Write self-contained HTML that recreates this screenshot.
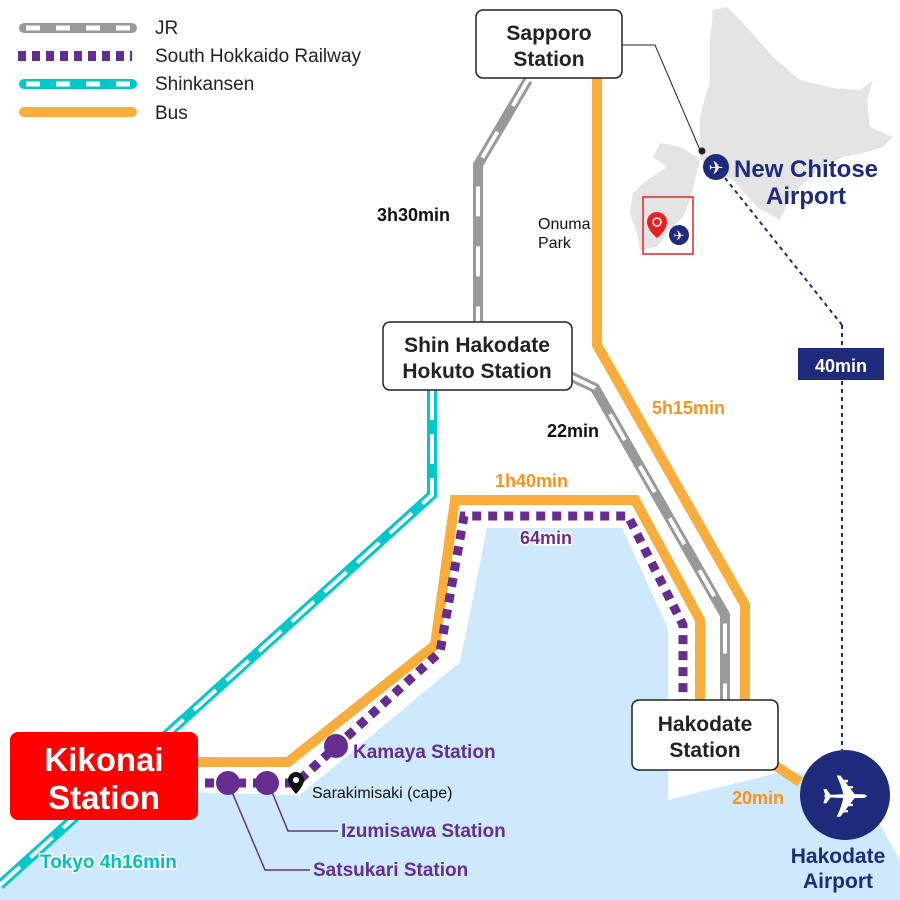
<!DOCTYPE html>
<html><head><meta charset="utf-8"><style>
html,body{margin:0;padding:0;background:#fff;}
svg{display:block;}
text{font-family:"Liberation Sans",sans-serif;}
.b{font-weight:bold;}
</style></head><body>
<svg width="900" height="900" viewBox="0 0 900 900" xmlns="http://www.w3.org/2000/svg">
<!-- sea -->
<polygon fill="#cde9fb" points="0,900 0,880 95,790 300,795 460,662 487,528 622,528 668,628 668,700 668,800 790,770 860,790 900,860 900,900"/>
<!-- Hokkaido -->
<polygon fill="#e4e4e4" points="713,10 727,7 743,23 773,57 800,80 833,88 860,90 873,80 867,100 870,127 893,137 883,147 863,153 843,157 817,170 790,197 780,220 757,207 733,180 717,173 697,157 680,147 660,143 653,157 667,167 647,180 633,193 630,213 637,233 640,250 657,247 667,233 683,217 690,200 700,160 700,117 710,80 710,40"/>
<!-- legend -->
<line x1="24" y1="28" x2="132" y2="28" stroke="#999" stroke-width="10" stroke-linecap="round"/>
<line x1="26" y1="28" x2="132" y2="28" stroke="#fff" stroke-width="5" stroke-dasharray="14,16"/>
<line x1="18" y1="56" x2="132" y2="56" stroke="#662d91" stroke-width="10" stroke-dasharray="8,6"/>
<line x1="24" y1="84" x2="132" y2="84" stroke="#00c8c8" stroke-width="10" stroke-linecap="round"/>
<line x1="26" y1="84" x2="132" y2="84" stroke="#fff" stroke-width="5" stroke-dasharray="14,16"/>
<line x1="24" y1="112" x2="132" y2="112" stroke="#f9ad3c" stroke-width="10" stroke-linecap="round"/>
<text x="155" y="34" font-size="19" fill="#222">JR</text>
<text x="155" y="62" font-size="19" fill="#222">South Hokkaido Railway</text>
<text x="155" y="90" font-size="19" fill="#222">Shinkansen</text>
<text x="155" y="119" font-size="19" fill="#222">Bus</text>
<!-- shinkansen -->
<polyline points="432,390 432,495 0,885" fill="none" stroke="#00c8c8" stroke-width="10"/>
<polyline points="432,390 432,495 0,885" fill="none" stroke="#fff" stroke-width="4" stroke-dasharray="30,14"/>
<!-- JR -->
<polyline points="528,80 478,165 478,330" fill="none" stroke="#999" stroke-width="10"/>
<polyline points="528,80 478,165 478,330" fill="none" stroke="#fff" stroke-width="4" stroke-dasharray="30,30"/>
<polyline points="568,375 595,388 725,615 725,702" fill="none" stroke="#999" stroke-width="10"/>
<polyline points="568,375 595,388 725,615 725,702" fill="none" stroke="#fff" stroke-width="4" stroke-dasharray="30,30"/>
<!-- bus -->
<polyline points="597,75 597,345 745,605 745,705" fill="none" stroke="#f9ad3c" stroke-width="10"/>
<polyline points="195,762 288,762 435,645 455,500 635,500 700,620 700,705" fill="none" stroke="#f9ad3c" stroke-width="10"/>
<polyline points="770,762 800,782" fill="none" stroke="#f9ad3c" stroke-width="10"/>
<!-- SHR -->
<polyline points="205,783 296,783 440,652 464,516 628,516 683,625 683,700" fill="none" stroke="#662d91" stroke-width="9" stroke-dasharray="9,7"/>
<!-- stations purple -->
<circle cx="228" cy="783" r="12" fill="#662d91"/>
<circle cx="267" cy="783" r="12" fill="#662d91"/>
<circle cx="336" cy="746" r="12" fill="#662d91"/>
<polyline points="232,792 265,870 310,870" fill="none" stroke="#662d91" stroke-width="1.5"/>
<polyline points="272,792 288,831 338,831" fill="none" stroke="#662d91" stroke-width="1.5"/>
<!-- pin -->
<path d="M296,772 a8,8 0 0 1 8,8 c0,6 -8,14 -8,14 c0,0 -8,-8 -8,-14 a8,8 0 0 1 8,-8z" fill="#111"/>
<circle cx="296" cy="780" r="3" fill="#fff"/>
<text x="312" y="798" font-size="16" fill="#111">Sarakimisaki (cape)</text>
<text x="353" y="758" font-size="19" class="b" fill="#662d91">Kamaya Station</text>
<text x="341" y="837" font-size="19" class="b" fill="#662d91">Izumisawa Station</text>
<text x="313" y="876" font-size="19" class="b" fill="#662d91">Satsukari Station</text>
<!-- boxes -->
<rect x="476" y="10" width="146" height="68" rx="7" fill="#fff" stroke="#222" stroke-width="1.5"/>
<text x="549" y="40" font-size="21" class="b" fill="#222" text-anchor="middle">Sapporo</text>
<text x="549" y="66" font-size="21" class="b" fill="#222" text-anchor="middle">Station</text>
<rect x="383" y="322" width="189" height="68" rx="7" fill="#fff" stroke="#222" stroke-width="1.5"/>
<text x="477" y="352" font-size="21" class="b" fill="#222" text-anchor="middle">Shin Hakodate</text>
<text x="477" y="378" font-size="21" class="b" fill="#222" text-anchor="middle">Hokuto Station</text>
<rect x="632" y="700" width="146" height="70" rx="7" fill="#fff" stroke="#222" stroke-width="1.5"/>
<text x="705" y="731" font-size="21" class="b" fill="#222" text-anchor="middle">Hakodate</text>
<text x="705" y="757" font-size="21" class="b" fill="#222" text-anchor="middle">Station</text>
<rect x="10" y="732" width="188" height="88" rx="8" fill="#ff0000"/>
<text x="104" y="771" font-size="33" class="b" fill="#fff" text-anchor="middle">Kikonai</text>
<text x="104" y="809" font-size="33" class="b" fill="#fff" text-anchor="middle">Station</text>
<!-- labels -->
<text x="377" y="221" font-size="18" class="b" fill="#111">3h30min</text>
<text x="538" y="229" font-size="16" fill="#111">Onuma</text>
<text x="538" y="248" font-size="16" fill="#111">Park</text>
<text x="547" y="437" font-size="18" class="b" fill="#111">22min</text>
<text x="652" y="414" font-size="18" class="b" fill="#f7941d">5h15min</text>
<text x="495" y="487" font-size="18" class="b" fill="#f7941d">1h40min</text>
<text x="520" y="544" font-size="18" class="b" fill="#662d91" stroke="#fff" stroke-width="3" paint-order="stroke">64min</text>
<text x="732" y="804" font-size="18" class="b" fill="#f7941d">20min</text>
<text x="40" y="868" font-size="19" class="b" fill="#00c0c0" stroke="#fff" stroke-width="3" paint-order="stroke">Tokyo 4h16min</text>
<!-- Sapporo leader -->
<polyline points="622,45 655,45 700,150" fill="none" stroke="#222" stroke-width="1"/>
<circle cx="702" cy="151" r="3.5" fill="#222"/>
<!-- New Chitose -->
<line x1="725" y1="178" x2="842" y2="325" stroke="#1e2a7a" stroke-width="2" stroke-dasharray="4,4"/>
<line x1="842" y1="325" x2="842" y2="750" stroke="#1e2a7a" stroke-width="2" stroke-dasharray="4,4"/>
<circle cx="716" cy="167" r="13" fill="#1e2a7a"/>
<text x="716" y="174" font-size="18" fill="#fff" text-anchor="middle">✈</text>
<text x="734" y="177" font-size="24" class="b" fill="#1e2a7a">New Chitose</text>
<text x="766" y="204" font-size="24" class="b" fill="#1e2a7a">Airport</text>
<rect x="643" y="197" width="50" height="57" fill="none" stroke="#e82020" stroke-width="1.5"/>
<path d="M657,212 a10,10 0 0 1 10,10 c0,8 -10,16 -10,16 c0,0 -10,-8 -10,-16 a10,10 0 0 1 10,-10z" fill="#e82020"/>
<circle cx="657" cy="222" r="4" fill="none" stroke="#fff" stroke-width="1.5"/>
<circle cx="679" cy="235" r="10" fill="#1e2a7a"/>
<text x="679" y="240" font-size="13" fill="#fff" text-anchor="middle">✈</text>
<rect x="798" y="348" width="86" height="32" fill="#1e2a7a"/>
<text x="841" y="372" font-size="18" class="b" fill="#fff" text-anchor="middle">40min</text>
<!-- Hakodate airport -->
<circle cx="845" cy="795" r="45" fill="#1e2a7a"/>
<text x="845" y="818" font-size="60" fill="#fff" text-anchor="middle">✈</text>
<text x="838" y="863" font-size="21" class="b" fill="#1e2a7a" text-anchor="middle">Hakodate</text>
<text x="838" y="888" font-size="21" class="b" fill="#1e2a7a" text-anchor="middle">Airport</text>
</svg>
</body></html>
